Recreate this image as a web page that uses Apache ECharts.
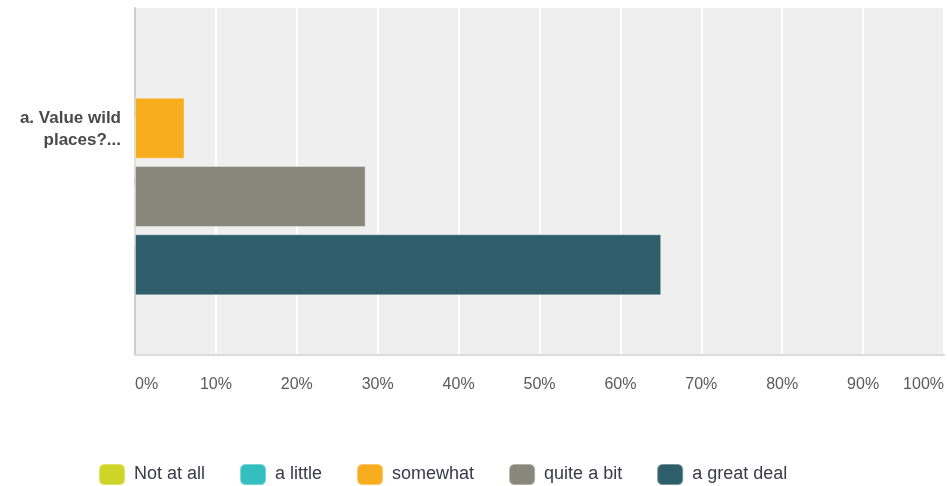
<!DOCTYPE html>
<html>
<head>
<meta charset="utf-8">
<script src="https://cdn.jsdelivr.net/npm/echarts@6/dist/echarts.min.js"></script>
<style>
  html, body { margin: 0; padding: 0; background: #fff; }
  #chart { width: 947px; height: 486px; }
</style>
</head>
<body>
<div id="chart"></div>
<script>
(function () {
    'use strict';
    // data (percent of respondents)
    var categories = ['a. Value wild\nplaces?...'];
    var seriesNames = ['Not at all', 'a little', 'somewhat', 'quite a bit', 'a great deal'];
    var seriesColors = ['#cdd526', '#34bec0', '#f7ad1e', '#87887a', '#2e5e6a'];
    var notAtAll = [0];
    var aLittle = [0];
    var somewhat = [6.1];
    var quiteABit = [28.4];
    var greatDeal = [64.8];
    var tickFormat = '{value}%';

    var values = [notAtAll, aLittle, somewhat, quiteABit, greatDeal];
    var font = '"Liberation Sans", Arial, sans-serif';

    var series = seriesNames.map(function (name, i) {
        // zero answers stay on the background grid, the rest on the bar grid
        var onBars = values[i][0] > 0;
        return {
            name: name,
            type: 'bar',
            xAxisIndex: onBars ? 1 : 0,
            yAxisIndex: onBars ? 1 : 0,
            barWidth: 61,
            barGap: '12%',
            itemStyle: {
                color: seriesColors[i],
                borderColor: 'rgba(255,255,255,0.35)',
                borderWidth: 1
            },
            data: values[i]
        };
    });

    var chart = echarts.init(document.getElementById('chart'));
    chart.setOption({
        animation: false,
        color: seriesColors,
        grid: [
            // background plot with the percent axis
            { left: 135, right: 0, top: 8, bottom: 131, show: true, backgroundColor: '#efefef', borderWidth: 0 },
            // bars
            { left: 135, right: 0, top: 38, bottom: 131 },
            // question label sits higher than the bar group
            { left: 135, right: 0, top: 8, bottom: 236 }
        ],
        xAxis: [{
            gridIndex: 0,
            type: 'value',
            min: 0,
            max: 100,
            interval: 10,
            axisLine: { show: true, lineStyle: { color: '#dcdcdc', width: 2 } },
            axisTick: { show: false },
            splitLine: { show: true, lineStyle: { color: '#ffffff', width: 2 } },
            axisLabel: {
                formatter: tickFormat,
                color: '#5a5a5a',
                fontFamily: font,
                fontSize: 16,
                margin: 22,
                alignMinLabel: 'left',
                alignMaxLabel: 'right'
            }
        }, {
            gridIndex: 1,
            type: 'value',
            min: 0,
            max: 100,
            show: false
        }, {
            gridIndex: 2,
            type: 'value',
            min: 0,
            max: 100,
            show: false
        }],
        yAxis: [{
            gridIndex: 0,
            type: 'category',
            data: categories,
            axisLine: { show: true, lineStyle: { color: '#cfcfcf', width: 2 } },
            axisTick: { show: false },
            axisLabel: { show: false }
        }, {
            gridIndex: 1,
            type: 'category',
            data: categories,
            inverse: true,
            show: false
        }, {
            gridIndex: 2,
            type: 'category',
            data: categories,
            axisLine: { show: false },
            axisTick: { show: false },
            axisLabel: {
                color: '#4a4a4a',
                fontFamily: font,
                fontWeight: 'bold',
                fontSize: 17,
                lineHeight: 22,
                margin: 14
            }
        }],
        legend: {
            data: seriesNames,
            left: 98,
            top: 463,
            padding: 0,
            itemWidth: 26,
            itemHeight: 21,
            itemGap: 34,
            icon: 'roundRect',
            textStyle: { color: '#3a3a4a', fontFamily: font, fontSize: 18, padding: [0, 0, 0, 4] }
        },
        series: series
    });

    window.onresize = function () {
        chart && chart.resize();
    };
})();
</script>
</body>
</html>
